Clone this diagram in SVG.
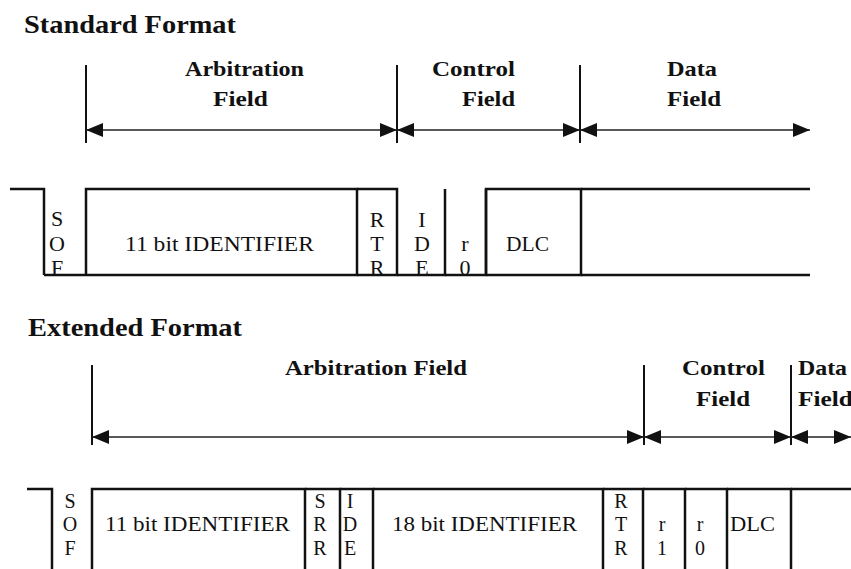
<svg xmlns="http://www.w3.org/2000/svg" width="851" height="569" viewBox="0 0 851 569">
<style>
.title{font-family:"Liberation Serif","Times New Roman",serif;font-weight:bold;font-size:25px;fill:#111}
.lbl{font-family:"Liberation Serif","Times New Roman",serif;font-weight:bold;font-size:22px;fill:#111}
.bs{font-family:"Liberation Serif","Times New Roman",serif;font-size:22px;fill:#111;text-anchor:middle}
.be{font-family:"Liberation Serif","Times New Roman",serif;font-size:20px;fill:#111;text-anchor:middle}
.ts{font-family:"Liberation Serif","Times New Roman",serif;font-size:22px;fill:#111}
.te{font-family:"Liberation Serif","Times New Roman",serif;font-size:20px;fill:#111}
.w{fill:none;stroke:#111;stroke-width:2.5}
.tick{stroke:#111;stroke-width:2}
.dim{stroke:#222;stroke-width:1.6;marker-start:url(#ah);marker-end:url(#ah)}
</style>
<defs>
<marker id="ah" viewBox="0 0 17 14" refX="17" refY="7" markerWidth="17" markerHeight="14" markerUnits="userSpaceOnUse" orient="auto-start-reverse">
<path d="M0,0 L17,7 L0,14 z" fill="#111"/>
</marker>
</defs>
<rect width="851" height="569" fill="#fff"/>

<text class="title" x="24" y="33" textLength="212" lengthAdjust="spacingAndGlyphs">Standard Format</text>
<text class="title" x="28" y="336" textLength="214" lengthAdjust="spacingAndGlyphs">Extended Format</text>

<!-- Standard format field labels -->
<g id="std-arb-label">
<line class="tick" x1="86" y1="65" x2="86" y2="143"/>
<text class="lbl" x="185" y="76" textLength="119" lengthAdjust="spacingAndGlyphs">Arbitration</text>
<text class="lbl" x="213" y="106" textLength="55" lengthAdjust="spacingAndGlyphs">Field</text>
</g>
<g id="std-ctrl-label">
<line class="tick" x1="397" y1="65" x2="397" y2="143"/>
<text class="lbl" x="432" y="76" textLength="83" lengthAdjust="spacingAndGlyphs">Control</text>
<text class="lbl" x="462" y="106" textLength="53" lengthAdjust="spacingAndGlyphs">Field</text>
</g>
<g id="std-data-label">
<line class="tick" x1="580" y1="65" x2="580" y2="143"/>
<text class="lbl" x="667" y="76" textLength="50" lengthAdjust="spacingAndGlyphs">Data</text>
<text class="lbl" x="667" y="106" textLength="54" lengthAdjust="spacingAndGlyphs">Field</text>
</g>

<!-- Extended format field labels -->
<g id="ext-arb-label">
<line class="tick" x1="92" y1="365" x2="92" y2="445"/>
<text class="lbl" x="285" y="375" textLength="182" lengthAdjust="spacingAndGlyphs">Arbitration Field</text>
</g>
<g id="ext-ctrl-label">
<line class="tick" x1="644" y1="365" x2="644" y2="445"/>
<text class="lbl" x="682" y="375" textLength="83" lengthAdjust="spacingAndGlyphs">Control</text>
<text class="lbl" x="696" y="406" textLength="54" lengthAdjust="spacingAndGlyphs">Field</text>
</g>
<g id="ext-data-label">
<line class="tick" x1="791" y1="365" x2="791" y2="445"/>
<text class="lbl" x="798" y="375" textLength="49" lengthAdjust="spacingAndGlyphs">Data</text>
<text class="lbl" x="798" y="406" textLength="55" lengthAdjust="spacingAndGlyphs">Field</text>
</g>

<!-- dimension connectors -->
<g id="connectors">
<line class="dim" x1="86" y1="130" x2="397" y2="130"/>
<line class="dim" x1="397" y1="130" x2="580" y2="130"/>
<line class="dim" x1="580" y1="130" x2="810" y2="130"/>
<line class="dim" x1="92" y1="437" x2="644" y2="437"/>
<line class="dim" x1="644" y1="437" x2="791" y2="437"/>
<line class="dim" x1="791" y1="437" x2="851" y2="437"/>
</g>

<!-- Standard frame -->
<g id="std-idle"><path class="w" d="M10,189 H44 V275"/></g>
<g id="std-sof">
<path class="w" d="M44,275 H86"/>
<text class="bs" x="57" y="226">S</text><text class="bs" x="57" y="251">O</text><text class="bs" x="57" y="275">F</text>
</g>
<g id="std-id11">
<path class="w" d="M86,275 V189 H357 V275 H86"/>
<text class="ts" x="125" y="251" textLength="189" lengthAdjust="spacingAndGlyphs">11 bit IDENTIFIER</text>
</g>
<g id="std-rtr">
<path class="w" d="M357,189 H397 V275 H357"/>
<text class="bs" x="377" y="227">R</text><text class="bs" x="377" y="251">T</text><text class="bs" x="377" y="275">R</text>
</g>
<g id="std-ide">
<path class="w" d="M397,275 H445 V189"/>
<text class="bs" x="422" y="227">I</text><text class="bs" x="422" y="251">D</text><text class="bs" x="422" y="275">E</text>
</g>
<g id="std-r0">
<path class="w" d="M445,275 H486 V189"/>
<text class="bs" x="465" y="251">r</text><text class="bs" x="465" y="275">0</text>
</g>
<g id="std-dlc">
<path class="w" d="M486,275 V189 H581 V275 H486"/>
<text class="ts" x="506" y="251" textLength="43" lengthAdjust="spacingAndGlyphs">DLC</text>
</g>
<g id="std-data">
<path class="w" d="M581,189 H810 M581,275 H810"/>
</g>

<!-- Extended frame -->
<g id="ext-idle"><path class="w" d="M27,489 H52 V569"/></g>
<g id="ext-sof">
<text class="be" x="70" y="508">S</text><text class="be" x="70" y="531">O</text><text class="be" x="70" y="555">F</text>
</g>
<g id="ext-id11">
<path class="w" d="M92,569 V489 H305 V569"/>
<text class="te" x="105" y="531" textLength="185" lengthAdjust="spacingAndGlyphs">11 bit IDENTIFIER</text>
</g>
<g id="ext-srr">
<path class="w" d="M305,489 H340 V569"/>
<text class="be" x="320" y="508">S</text><text class="be" x="320" y="531">R</text><text class="be" x="320" y="555">R</text>
</g>
<g id="ext-ide">
<path class="w" d="M340,489 H373 V569"/>
<text class="be" x="350" y="508">I</text><text class="be" x="350" y="531">D</text><text class="be" x="350" y="555">E</text>
</g>
<g id="ext-id18">
<path class="w" d="M373,489 H603 V569"/>
<text class="te" x="392" y="531" textLength="185" lengthAdjust="spacingAndGlyphs">18 bit IDENTIFIER</text>
</g>
<g id="ext-rtr">
<path class="w" d="M603,489 H643 V569"/>
<text class="be" x="621" y="508">R</text><text class="be" x="621" y="531">T</text><text class="be" x="621" y="555">R</text>
</g>
<g id="ext-r1">
<path class="w" d="M643,489 H685 V569"/>
<text class="be" x="662" y="531">r</text><text class="be" x="662" y="555">1</text>
</g>
<g id="ext-r0">
<path class="w" d="M685,489 H727 V569"/>
<text class="be" x="700" y="531">r</text><text class="be" x="700" y="555">0</text>
</g>
<g id="ext-dlc">
<path class="w" d="M727,489 H791 V569"/>
<text class="te" x="730" y="531" textLength="45" lengthAdjust="spacingAndGlyphs">DLC</text>
</g>
<g id="ext-data">
<path class="w" d="M791,489 H851"/>
</g>
</svg>
